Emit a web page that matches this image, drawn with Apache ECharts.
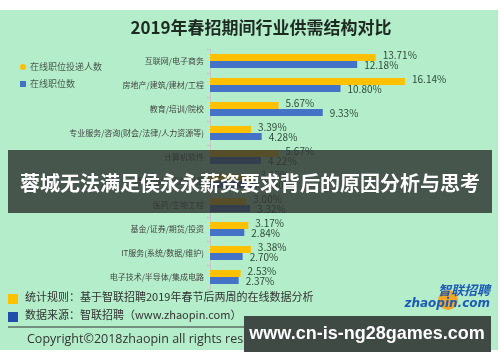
<!DOCTYPE html>
<html><head><meta charset="utf-8">
<script src="https://cdn.jsdelivr.net/npm/echarts@6/dist/echarts.min.js"></script>
<style>html,body{margin:0;padding:0;background:#fff}#c{width:500px;height:362px}</style>
</head><body><div id="c"></div>
<script>
const categories = ['互联网/电子商务','房地产/建筑/建材/工程','教育/培训/院校','专业服务/咨询(财会/法律/人力资源等)','计算机软件','通信/电信/网络设备','医药/生物工程','基金/证券/期货/投资','IT服务(系统/数据/维护)','电子技术/半导体/集成电路'];
const applicants = [13.71,16.14,5.67,3.39,5.67,3.60,3.00,3.17,3.38,2.53];
const positions = [12.18,10.80,9.33,4.28,4.22,3.90,3.32,2.84,2.70,2.37];
const seriesNames = ['在线职位投递人数','在线职位数'];
const title = '2019年春招期间行业供需结构对比';
const banner = '蓉城无法满足侯永永薪资要求背后的原因分析与思考';
const CJK = '"Noto Sans CJK SC", "Noto Sans", sans-serif';

const chart = echarts.init(document.getElementById('c'), null, {renderer:'canvas'});
const lbl = (dy) => ({show:true, position:'right', distance:7, offset:[0,dy], formatter: p => p.value.toFixed(2)+'%', color:'#2f4a3a', fontSize:10, fontFamily:CJK});
chart.setOption({
  backgroundColor:'#ffffff',
  animation:false,
  grid:{left:210, top:49, width:290, height:240, containLabel:false},
  xAxis:{type:'value', min:0, max:24, show:false},
  yAxis:{type:'category', data:categories, inverse:true,
    axisLine:{show:true, lineStyle:{color:'#c8c8c8', width:1}},
    axisTick:{show:true, length:3, lineStyle:{color:'#c8c8c8'}},
    axisLabel:{color:'#444', fontSize:8, fontFamily:CJK, margin:6}},
  series:[
    {name:seriesNames[0], type:'bar', data:applicants, barWidth:7, barGap:'0%', itemStyle:{color:'#ffc000'}, label:lbl(-2), z:2},
    {name:seriesNames[1], type:'bar', data:positions, barWidth:7, barGap:'0%', itemStyle:{color:'#4472c4'}, label:lbl(1), z:2}
  ],
  graphic:[
    {type:'rect', shape:{x:0,y:10,width:498,height:340}, style:{fill:'#b3edc9'}, z:-10, silent:true},
    {type:'text', x:261, y:28, style:{text:title, font:'bold 17px '+CJK, fill:'#1e2a22', align:'center', verticalAlign:'middle'}},
    {type:'circle', shape:{cx:23, cy:67, r:3}, style:{fill:'#ffc000'}},
    {type:'text', x:30, y:62, style:{text:seriesNames[0], font:'9px '+CJK, fill:'#4a5a50'}},
    {type:'rect', shape:{x:20, y:81, width:6, height:6}, style:{fill:'#4472c4'}},
    {type:'text', x:30, y:79, style:{text:seriesNames[1], font:'9px '+CJK, fill:'#4a5a50'}},
    {type:'rect', shape:{x:8, y:150, width:484, height:63}, style:{fill:'rgba(48,52,50,0.82)'}, z:50},
    {type:'text', x:250, y:183, z:51, style:{text:banner, font:'bold 20px '+CJK, fill:'#ffffff', align:'center', verticalAlign:'middle'}},
    {type:'rect', shape:{x:8, y:294, width:10, height:10}, style:{fill:'#ffc000'}},
    {type:'text', x:25, y:291, style:{text:'统计规则：基于智联招聘2019年春节后两周的在线数据分析', font:'11px '+CJK, fill:'#333'}},
    {type:'rect', shape:{x:8, y:312, width:10, height:10}, style:{fill:'#1f4fa8'}},
    {type:'text', x:25, y:309, style:{text:'数据来源：智联招聘（www.zhaopin.com）', font:'11px '+CJK, fill:'#333'}},
    {type:'line', shape:{x1:8, y1:327, x2:490, y2:327}, style:{stroke:'#333', lineWidth:1}},
    {type:'text', x:27, y:333, style:{text:'Copyright©2018zhaopin all rights reserved', font:'12.5px "Open Sans", sans-serif', fill:'#333'}},
    {type:'circle', shape:{cx:448, cy:300, r:10}, style:{fill:'#f5a623'}},
    {type:'text', x:490, y:284, style:{text:'智联招聘', font:'italic bold 13px '+CJK, fill:'#1e5bb5', align:'right'}},
    {type:'text', x:490, y:298, style:{text:'zhaopin.com', font:'italic bold 12px "DejaVu Sans", sans-serif', fill:'#1e5bb5', align:'right'}},
    {type:'rect', shape:{x:244, y:316, width:247, height:36}, style:{fill:'#3f4a44'}, z:50},
    {type:'text', x:367, y:334, z:51, style:{text:'www.cn-is-ng28games.com', font:'bold 18px "Liberation Sans", sans-serif', fill:'#ffffff', align:'center', verticalAlign:'middle'}}
  ]
});
</script></body></html>
